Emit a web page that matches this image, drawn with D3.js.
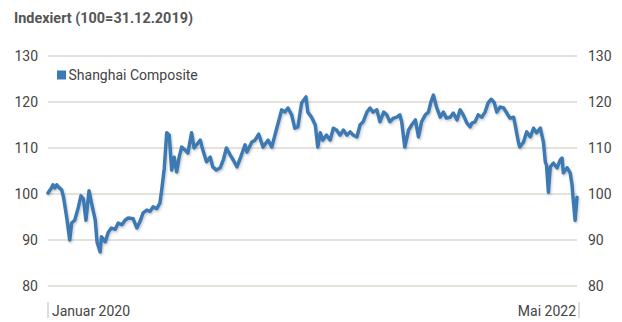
<!DOCTYPE html>
<html>
<head>
<meta charset="utf-8">
<script src="https://cdn.jsdelivr.net/npm/d3@7"></script>
<style>
  html, body { margin: 0; padding: 0; background: #fff; }
  svg { display: block; }
  text { font-family: "Roboto", "Liberation Sans", sans-serif; }
</style>
</head>
<body>
<svg id="chart" width="622" height="322"></svg>
<script>
const title = "Indexiert (100=31.12.2019)";
const seriesName = "Shanghai Composite";
const yTicks = [80, 90, 100, 110, 120, 130];
const xLabels = ["Januar 2020", "Mai 2022"];
const xLabelDates = ["2020-01-01", "2022-05-01"];

const dates = [
 "2020-01-01","2020-01-06","2020-01-09","2020-01-12","2020-01-15","2020-01-18","2020-01-23","2020-01-26","2020-01-31",
 "2020-02-05","2020-02-08","2020-02-13","2020-02-19","2020-02-23","2020-02-27","2020-03-02","2020-03-07","2020-03-11",
 "2020-03-17","2020-03-20","2020-03-25","2020-03-27","2020-04-02","2020-04-07","2020-04-12","2020-04-18","2020-04-23",
 "2020-04-29","2020-05-04","2020-05-09","2020-05-17","2020-05-23","2020-05-28","2020-06-02","2020-06-08","2020-06-13",
 "2020-06-18","2020-06-24","2020-06-29","2020-07-02","2020-07-06","2020-07-10","2020-07-14","2020-07-18","2020-07-22",
 "2020-07-26","2020-07-30","2020-08-03","2020-08-08","2020-08-13","2020-08-19","2020-08-23","2020-08-27","2020-09-02",
 "2020-09-06","2020-09-12","2020-09-18","2020-09-22","2020-09-28","2020-10-04","2020-10-09","2020-10-14","2020-10-20",
 "2020-10-25","2020-10-31","2020-11-06","2020-11-13","2020-11-16","2020-11-24","2020-11-29","2020-12-05","2020-12-12",
 "2020-12-20","2020-12-26","2021-01-03","2021-01-11","2021-01-16","2021-01-21","2021-01-27","2021-02-01","2021-02-06",
 "2021-02-12","2021-02-19","2021-02-22","2021-02-28","2021-03-06","2021-03-10","2021-03-14","2021-03-18","2021-03-24",
 "2021-03-30","2021-04-04","2021-04-09","2021-04-15","2021-04-20","2021-04-26","2021-05-01","2021-05-06","2021-05-12",
 "2021-05-17","2021-05-22","2021-05-28","2021-06-02","2021-06-07","2021-06-13","2021-06-18","2021-06-24","2021-06-29",
 "2021-07-04","2021-07-10","2021-07-15","2021-07-20","2021-07-23","2021-07-28","2021-08-03","2021-08-08","2021-08-14",
 "2021-08-19","2021-08-24","2021-08-30","2021-09-04","2021-09-08","2021-09-12","2021-09-17","2021-09-23","2021-09-28",
 "2021-10-03","2021-10-09","2021-10-14","2021-10-20","2021-10-25","2021-10-30","2021-11-05","2021-11-10","2021-11-13",
 "2021-11-18","2021-11-23","2021-11-29","2021-12-04","2021-12-09","2021-12-14","2021-12-19","2021-12-23","2021-12-28",
 "2022-01-03","2022-01-08","2022-01-13","2022-01-19","2022-01-21","2022-01-27","2022-01-29","2022-02-04","2022-02-09",
 "2022-02-15","2022-02-20","2022-02-25","2022-03-03","2022-03-08","2022-03-11","2022-03-13","2022-03-16","2022-03-19",
 "2022-03-24","2022-03-30","2022-04-04","2022-04-07","2022-04-09","2022-04-15","2022-04-20","2022-04-23","2022-04-25",
 "2022-04-28","2022-05-01"
];
const values = [
 100.2,101.2,102.0,101.3,102.0,101.5,100.9,99.3,95.0,
 90.0,93.7,94.3,97.2,99.6,98.9,94.3,100.7,98.0,
 94.3,89.5,87.4,90.7,89.6,91.7,92.6,92.3,93.7,
 93.3,94.3,94.8,94.6,92.6,94.0,95.9,96.5,96.2,
 97.2,96.8,98.0,100.9,105.5,113.3,112.8,105.2,108.0,
 104.8,108.0,110.2,109.6,108.9,113.3,110.0,110.7,111.7,
 109.6,107.0,108.0,105.9,105.2,105.7,107.4,110.0,108.5,
 107.4,105.9,108.0,110.7,109.1,111.3,111.7,113.0,110.2,
 111.7,110.2,114.3,118.3,117.8,118.7,117.2,114.3,114.6,
 119.8,121.1,117.8,116.7,115.0,110.2,113.3,111.7,112.8,
 111.7,114.3,113.9,112.8,113.9,112.8,113.5,112.8,112.4,
 115.0,115.7,117.8,118.7,117.8,118.3,115.7,117.8,117.2,
 115.7,116.5,116.7,117.2,115.7,110.2,113.9,115.0,116.1,
 112.4,115.7,117.2,117.8,120.0,121.5,118.9,116.7,117.8,
 116.5,116.7,117.6,116.1,118.3,117.2,115.4,114.6,115.4,
 115.7,117.2,116.7,117.8,119.8,120.6,119.8,117.8,118.9,
 118.7,117.6,116.5,116.7,115.4,111.1,110.2,111.3,113.5,
 112.4,114.3,113.3,114.3,111.3,107.0,106.3,100.4,105.9,
 106.7,105.7,107.4,107.8,104.6,105.7,104.6,102.0,98.7,
 94.3,99.3
];

const parse = d3.timeParse("%Y-%m-%d");
const data = dates.map((d, i) => ({ date: parse(d), value: values[i] }));

const svg = d3.select("#chart");
const x = d3.scaleTime()
  .domain([parse("2020-01-01"), parse("2022-05-01")])
  .range([48, 577]);
const y = d3.scaleLinear().domain([80, 130]).range([286, 56]);

const defs = svg.append("defs");
const f = defs.append("filter").attr("id", "shadow")
  .attr("x", "-5%").attr("y", "-5%").attr("width", "110%").attr("height", "120%");
f.append("feDropShadow").attr("dx", 1).attr("dy", 1.5).attr("stdDeviation", 1)
  .attr("flood-color", "#000").attr("flood-opacity", 0.22);

// title
svg.append("text").attr("x", 14).attr("y", 22.5)
  .attr("font-size", 14.8).attr("font-weight", "bold").attr("fill", "#555")
  .attr("textLength", 179).attr("lengthAdjust", "spacingAndGlyphs")
  .text(title);

// gridlines
svg.append("g").selectAll("line").data(yTicks).join("line")
  .attr("x1", 48).attr("x2", 577)
  .attr("y1", d => y(d)).attr("y2", d => y(d))
  .attr("stroke", "#dcd9d0").attr("stroke-width", 1.5);

// left axis labels
const yl = d3.axisLeft(y).tickValues(yTicks).tickSize(0).tickPadding(0);
svg.append("g").attr("transform", "translate(38,0)").call(yl)
  .call(g => g.select(".domain").remove())
  .call(g => g.selectAll("text").attr("font-size", 14).attr("fill", "#444")
     .attr("font-family", "Roboto, sans-serif").attr("dy", "0.35em"));

// right axis labels
const yr = d3.axisRight(y).tickValues(yTicks).tickSize(0).tickPadding(0);
svg.append("g").attr("transform", "translate(588,0)").call(yr)
  .call(g => g.select(".domain").remove())
  .call(g => g.selectAll("text").attr("font-size", 14).attr("fill", "#444")
     .attr("font-family", "Roboto, sans-serif").attr("dy", "0.35em"));

// bottom labels & ticks
const xl = xLabelDates.map((d, i) => ({ date: parse(d), label: xLabels[i], anchor: i === 0 ? "start" : "end" }));
svg.append("g").selectAll("line").data(xl).join("line")
  .attr("x1", d => x(d.date) + (d.anchor === "start" ? 0 : 2))
  .attr("x2", d => x(d.date) + (d.anchor === "start" ? 0 : 2))
  .attr("y1", 302).attr("y2", 318)
  .attr("stroke", "#bbb").attr("stroke-width", 1);
svg.append("g").selectAll("text").data(xl).join("text")
  .attr("x", d => x(d.date) + (d.anchor === "start" ? 4 : -1))
  .attr("y", 316)
  .attr("text-anchor", d => d.anchor)
  .attr("font-size", 14).attr("fill", "#444")
  .text(d => d.label);

// line
const line = d3.line().x(d => x(d.date)).y(d => y(d.value)).curve(d3.curveLinear);
svg.append("path").datum(data)
  .attr("d", line)
  .attr("fill", "none")
  .attr("stroke", "#3d7ab3")
  .attr("stroke-width", 3.5)
  .attr("stroke-linejoin", "round")
  .attr("stroke-linecap", "round")
  .attr("filter", "url(#shadow)");

// legend
svg.append("rect").attr("x", 57).attr("y", 70.5).attr("width", 9).attr("height", 9)
  .attr("fill", "#3d7ab3");
svg.append("text").attr("x", 68.5).attr("y", 75).attr("dy", "0.35em")
  .attr("font-size", 14).attr("fill", "#444")
  .text(seriesName);
</script>
</body>
</html>
